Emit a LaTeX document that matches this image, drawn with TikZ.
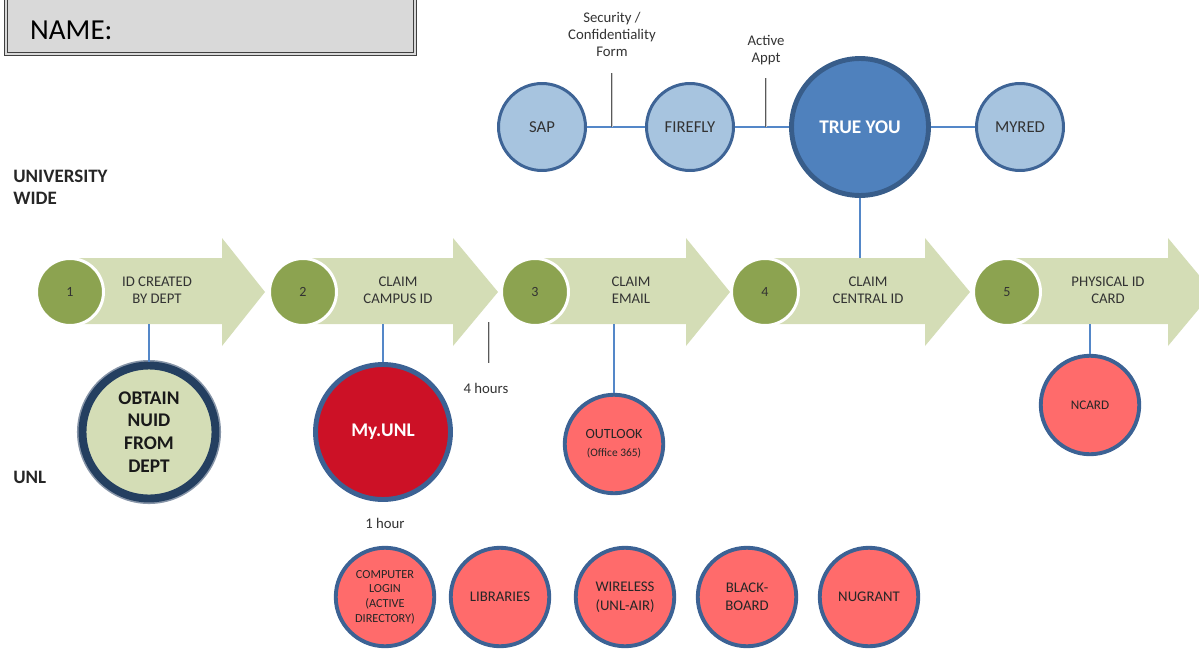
\documentclass[tikz,border=0pt]{standalone}
\usepackage{fontspec}
\setmainfont{Carlito}
\definecolor{arrowgreen}{RGB}{212,221,182}
\definecolor{stepgreen}{RGB}{140,163,80}
\definecolor{lightblue}{RGB}{167,196,223}
\definecolor{topborder}{RGB}{62,100,150}
\definecolor{trueblue}{RGB}{79,129,189}
\definecolor{trueborder}{RGB}{56,93,138}
\definecolor{linkblue}{RGB}{84,135,200}
\definecolor{navy}{RGB}{36,63,96}
\definecolor{unlred}{RGB}{204,17,38}
\definecolor{pinkfill}{RGB}{255,107,107}
\definecolor{pinkborder}{RGB}{60,98,148}
\definecolor{namegray}{RGB}{217,217,217}
\begin{document}
\begin{tikzpicture}[x=0.02cm, y=-0.02cm,
    main/.style = {circle, fill=stepgreen, draw=white, line width=1.7pt, minimum size=1.34cm, inner sep=0pt, text=black!80, font=\fontsize{8}{9.6}\selectfont},
    lbl/.style = {align=center, text=black!80, font=\fontsize{8.4}{9.7}\selectfont},
    topc/.style = {circle, fill=lightblue, draw=topborder, line width=1.7pt, minimum size=1.74cm, inner sep=0pt, text=black!80, font=\fontsize{9.5}{11}\selectfont},
    pinkc/.style = {circle, fill=pinkfill, draw=pinkborder, line width=2.2pt, minimum size=1.97cm, inner sep=0pt, align=center, text=black!85, font=\fontsize{8.4}{10.5}\selectfont},
    link/.style = {linkblue, line width=1.2pt},
    tick/.style = {black!65, line width=0.45pt, double=black!20, double distance=0.5pt},
    stepbody/.style = {fill=arrowgreen},
    side/.style = {anchor=west, inner sep=0pt, align=left, text=black!85, font=\bfseries\fontsize{10.8}{12.5}\selectfont}]
    \clip (0,0) rectangle (1199,649);

    % name field
    \filldraw[fill=namegray, draw=black!75, line width=0.6pt, double=namegray, double distance=1.2pt] (6,-10) rectangle (415,54);
    \node[anchor=west, font=\fontsize{16.5}{20}\selectfont] (name) at (24,30) {NAME:};

    % row labels
    \node[side] (uw) at (13,187) {UNIVERSITY\\WIDE};
    \node[side] (unl) at (13,477) {UNL};

    % the five steps
    \fill[stepbody] (70,258) -- (222,258) -- (222,238) -- (265,292) -- (222,346) -- (222,324) -- (70,324) -- cycle;
    \fill[stepbody] (303,258) -- (453,258) -- (453,238) -- (498,292) -- (453,346) -- (453,324) -- (303,324) -- cycle;
    \fill[stepbody] (535,258) -- (686,258) -- (686,238) -- (730,292) -- (686,346) -- (686,324) -- (535,324) -- cycle;
    \fill[stepbody] (765,258) -- (925,258) -- (925,238) -- (970,292) -- (925,346) -- (925,324) -- (765,324) -- cycle;
    \fill[stepbody] (1007,258) -- (1168,258) -- (1168,238) -- (1213,292) -- (1168,346) -- (1168,324) -- (1007,324) -- cycle;

    \node[main] (1) at (70,292) {1};
    \node[main] (2) at (303,292) {2};
    \node[main] (3) at (535,292) {3};
    \node[main] (4) at (765,292) {4};
    \node[main] (5) at (1007,292) {5};

    \node[lbl] (t1) at (157,290) {ID CREATED\\BY DEPT};
    \node[lbl] (t2) at (398,290) {CLAIM\\CAMPUS ID};
    \node[lbl] (t3) at (631,290) {CLAIM\\EMAIL};
    \node[lbl] (t4) at (868,290) {CLAIM\\CENTRAL ID};
    \node[lbl] (t5) at (1108,290) {PHYSICAL ID\\CARD};

    \coordinate (b1) at (149,324);
    \coordinate (b2) at (383,324);
    \coordinate (b3) at (614,324);
    \coordinate (b4) at (860,258);
    \coordinate (b5) at (1090,324);

    % university wide
    \node[topc] (sap) at (542,127) {SAP};
    \node[topc] (firefly) at (690,127) {FIREFLY};
    \node[circle, fill=trueblue, draw=trueborder, line width=2.8pt, minimum size=2.74cm, inner sep=0pt, text=white, font=\bfseries\fontsize{11}{13}\selectfont] (trueyou) at (860,127) {TRUE YOU};
    \node[topc] (myred) at (1020,127) {MYRED};

    \draw[link] (sap) -- (firefly);
    \draw[link] (firefly) -- (trueyou);
    \draw[link] (trueyou) -- (myred);
    \draw[link] (trueyou) -- (b4);

    \node[lbl] (form) at (612,34) {Security /\\Confidentiality\\Form};
    \node[lbl] (appt) at (766,50) {Active\\Appt};
    \draw[tick] (612,73) -- (612,127);
    \draw[tick] (766,78) -- (766,127);

    % unl
    \node[circle, fill=arrowgreen, draw=navy, line width=4.5pt, preaction={draw=navy!55, line width=6.3pt}, minimum size=2.66cm, inner sep=0pt, align=center, text=black!90, font=\bfseries\fontsize{11}{13}\selectfont] (obtain) at (149,432) {OBTAIN\\NUID\\FROM\\DEPT};
    \node[circle, fill=unlred, draw=pinkborder, line width=2.8pt, minimum size=2.7cm, inner sep=0pt, text=white, font=\bfseries\fontsize{11}{13}\selectfont] (myunl) at (383,432) {My.UNL};
    \node[pinkc, font=\fontsize{8}{10}\selectfont] (outlook) at (614,444) {OUTLOOK\\{\fontsize{6.5}{8}\selectfont (Office 365)}};
    \node[pinkc, font=\fontsize{7.5}{9}\selectfont] (ncard) at (1090,405) {NCARD};

    \draw[link] (b1) -- (obtain);
    \draw[link] (b2) -- (myunl);
    \draw[link] (b3) -- (outlook);
    \draw[link] (b5) -- (ncard);

    \draw[tick] (489,322) -- (489,363);
    \node[lbl] (hrs4) at (486,388) {4 hours};
    \node[lbl] (hrs1) at (385,523) {1 hour};

    \node[pinkc, font=\fontsize{7}{8.3}\selectfont] (login) at (385,597) {COMPUTER\\LOGIN\\(ACTIVE\\DIRECTORY)};
    \node[pinkc] (lib) at (500,597) {LIBRARIES};
    \node[pinkc] (wifi) at (625,597) {WIRELESS\\(UNL-AIR)};
    \node[pinkc] (bb) at (747,597) {BLACK-\\BOARD};
    \node[pinkc] (nugrant) at (869,597) {NUGRANT};
\end{tikzpicture}
\end{document}
